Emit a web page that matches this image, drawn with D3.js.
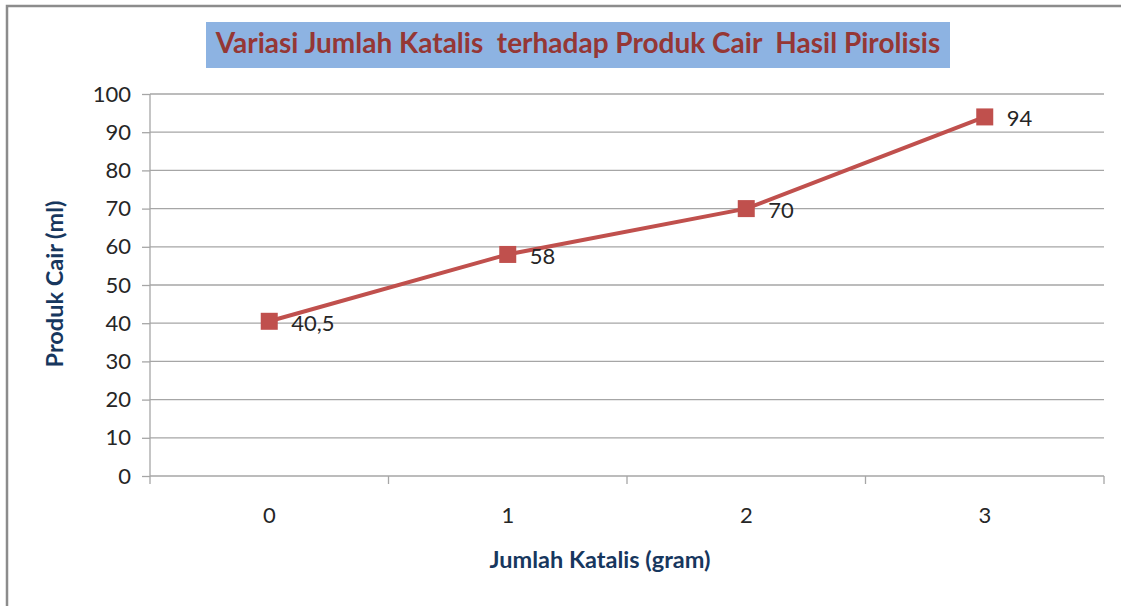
<!DOCTYPE html>
<html><head><meta charset="utf-8">
<script src="https://cdn.jsdelivr.net/npm/d3@7"></script>
<style>body{margin:0;background:#fff}svg{display:block}</style>
</head><body>
<svg id="c" width="1121" height="606"></svg>
<script>
const categories = ["0", "1", "2", "3"];
const values = [40.5, 58, 70, 94];
const valueLabels = ["40,5", "58", "70", "94"];
const yTicks = [0, 10, 20, 30, 40, 50, 60, 70, 80, 90, 100];
const titleText = "Variasi Jumlah Katalis  terhadap Produk Cair  Hasil Pirolisis";
const xTitle = "Jumlah Katalis (gram)";
const yTitle = "Produk Cair (ml)";

const svg = d3.select("#c");
const font = "Lato, 'Open Sans', sans-serif";
const L = 150, R = 1104, T = 94, B = 476;

// outer frame
svg.append("path").attr("d", "M7,606 V6 H1121").attr("fill", "none")
  .attr("stroke", "#8c8c8c").attr("stroke-width", 2.5);

const x = d3.scaleBand().domain(categories).range([L, R]);
const y = d3.scaleLinear().domain([0, 100]).range([B, T]);

// gridlines
svg.append("g").selectAll("line").data(yTicks.filter(d => d > 0)).join("line")
  .attr("x1", L).attr("x2", R).attr("y1", d => y(d)).attr("y2", d => y(d))
  .attr("stroke", "#a6a6a6").attr("stroke-width", 1.3);

// y axis
const ya = svg.append("g").attr("transform", `translate(${L},0)`)
  .call(d3.axisLeft(y).tickValues(yTicks).tickSize(8).tickPadding(11));
ya.select(".domain").attr("stroke", "#a6a6a6").attr("stroke-width", 1.3).attr("d", `M0,${T}V${B}`);
ya.selectAll(".tick line").attr("stroke", "#a6a6a6").attr("stroke-width", 1.3);
ya.selectAll("text").attr("font-family", font).attr("font-size", 22).attr("fill", "#262626");

// x axis
const xa = svg.append("g").attr("transform", `translate(0,${B})`)
  .call(d3.axisBottom(x).tickSize(0).tickPadding(31));
xa.select(".domain").attr("stroke", "#a6a6a6").attr("stroke-width", 1.3).attr("d", `M${L},0H${R}`);
xa.selectAll("text").attr("font-family", font).attr("font-size", 22).attr("fill", "#262626");
// category boundary ticks
const bounds = categories.map(c => x(c)).concat([x(categories[categories.length - 1]) + x.bandwidth()]);
svg.append("g").selectAll("line").data(bounds).join("line")
  .attr("x1", d => d).attr("x2", d => d).attr("y1", B).attr("y2", B + 8)
  .attr("stroke", "#a6a6a6").attr("stroke-width", 1.3);

// line
const cx = c => x(c) + x.bandwidth() / 2;
const line = d3.line().x((d, i) => cx(categories[i])).y(d => y(d));
svg.append("path").datum(values).attr("d", line).attr("fill", "none")
  .attr("stroke", "#c0504d").attr("stroke-width", 4);

// markers
const ms = 17;
svg.append("g").selectAll("rect").data(values).join("rect")
  .attr("x", (d, i) => cx(categories[i]) - ms / 2).attr("y", d => y(d) - ms / 2)
  .attr("width", ms).attr("height", ms).attr("fill", "#c0504d");

// data labels
svg.append("g").selectAll("text").data(values).join("text")
  .attr("x", (d, i) => cx(categories[i]) + 22).attr("y", d => y(d) + 4)
  .attr("dominant-baseline", "middle")
  .attr("font-family", font).attr("font-size", 22).attr("fill", "#262626")
  .text((d, i) => valueLabels[i]);

// title
const tb = { x: 206, y: 22, w: 744, h: 46 };
svg.append("rect").attr("x", tb.x).attr("y", tb.y).attr("width", tb.w).attr("height", tb.h).attr("fill", "#8db3e2");
svg.append("text").attr("x", tb.x + tb.w / 2).attr("y", tb.y + tb.h / 2 + 1)
  .attr("text-anchor", "middle").attr("dominant-baseline", "middle")
  .attr("font-family", font).attr("font-weight", "bold").attr("font-size", 28)
  .attr("fill", "#953735").attr("xml:space", "preserve").style("white-space", "pre").text(titleText);

// axis titles
svg.append("text").attr("x", 600).attr("y", 562)
  .attr("text-anchor", "middle").attr("dominant-baseline", "middle")
  .attr("font-family", font).attr("font-weight", "bold").attr("font-size", 23.5)
  .attr("fill", "#17375e").text(xTitle);
svg.append("text").attr("transform", `translate(57,${(T + B) / 2 - 1}) rotate(-90)`)
  .attr("text-anchor", "middle").attr("dominant-baseline", "middle")
  .attr("font-family", font).attr("font-weight", "bold").attr("font-size", 23.5)
  .attr("fill", "#17375e").text(yTitle);
</script>
</body></html>
